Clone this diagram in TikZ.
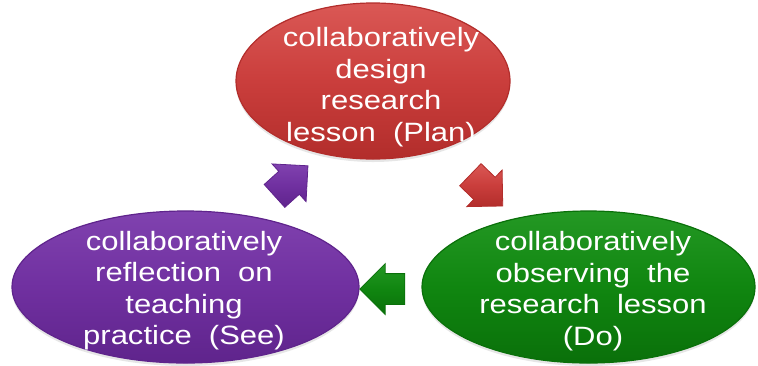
\documentclass[tikz,border=0pt]{standalone}
\usepackage{fontspec}
\newfontfamily\cyclefont[FakeStretch=1.17]{Liberation Sans}
\usetikzlibrary{shapes.geometric,shapes.arrows,shadows}

\definecolor{planred}{RGB}{202,62,60}
\definecolor{planredlight}{RGB}{218,88,85}
\definecolor{planreddark}{RGB}{178,45,43}
\definecolor{seepurple}{RGB}{112,48,160}
\definecolor{seepurplelight}{RGB}{128,66,175}
\definecolor{seepurpledark}{RGB}{95,36,140}
\definecolor{dogreen}{RGB}{16,134,16}
\definecolor{dogreenlight}{RGB}{36,152,36}
\definecolor{dogreendark}{RGB}{10,112,10}

\tikzset{
  phase/.style={ellipse, inner sep=0pt, draw=#1dark, line width=0.6pt,
    top color=#1light, bottom color=#1dark, middle color=#1,
    drop shadow={opacity=0.2, shadow xshift=0pt, shadow yshift=-1.5pt}},
  phasetext/.style={text=white, align=center, inner sep=0pt,
    font=\cyclefont\fontsize{13.25pt}{15.75pt}\selectfont},
  cyclearrow/.style={single arrow, inner xsep=0pt, inner ysep=7.5pt,
    single arrow head extend=5pt, minimum height=22.5pt,
    draw=#1dark, line width=0.4pt,
    top color=#1light, bottom color=#1dark, middle color=#1}
}

\begin{document}
\begin{tikzpicture}[x=0.5pt, y=-0.5pt]
  \useasboundingbox (0,0) rectangle (758,365);

  \node [phase=planred, minimum width=137pt, minimum height=78pt] (plan) at (373,81) {};
  \node [phase=seepurple, minimum width=173.5pt, minimum height=76pt] (see) at (185.5,287) {};
  \node [phase=dogreen, minimum width=166.5pt, minimum height=76pt] (do) at (588.5,287) {};

  \node [phasetext] (plantext) at (381,87) {collaboratively\\design\\research\\lesson\ \ (Plan)};
  \node [phasetext] (seetext) at (184,290.5) {collaboratively\\reflection\ \ on\\teaching\\practice\ \ (See)};
  \node [phasetext] (dotext) at (593,291) {collaboratively\\observing\ \ the\\research\ \ lesson\\(Do)};

  \node [cyclearrow=seepurple, rotate=42] (toplan) at (285.5,186) {};
  \node [cyclearrow=planred, rotate=-44] (todo) at (481,185) {};
  \node [cyclearrow=dogreen, rotate=180] (tosee) at (390,289) {};
\end{tikzpicture}
\end{document}
